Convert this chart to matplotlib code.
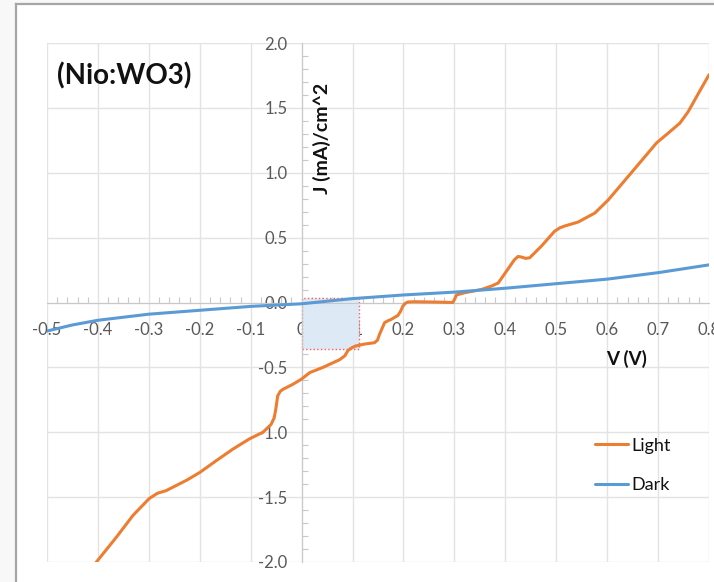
import matplotlib
matplotlib.use("Agg")
import matplotlib.pyplot as plt
from matplotlib.patches import Rectangle
from matplotlib.lines import Line2D
from matplotlib.ticker import MultipleLocator, FixedLocator

plt.rcParams['font.family'] = ['Lato', 'DejaVu Sans']

# ---- data ----
light_v = [-0.403, -0.364, -0.331, -0.299, -0.283, -0.266, -0.226, -0.200, -0.168, -0.135, -0.102,
           -0.076, -0.060, -0.054, -0.051, -0.047, -0.042, -0.037, -0.017, 0.000, 0.016, 0.042, 0.075,
           0.085, 0.091, 0.098, 0.106, 0.124, 0.143, 0.149, 0.153, 0.163, 0.170, 0.176, 0.189, 0.194,
           0.199, 0.204, 0.209, 0.220,
           0.235, 0.268, 0.297, 0.301, 0.304, 0.320, 0.353, 0.373, 0.386, 0.402, 0.418,
           0.425, 0.432, 0.440, 0.448, 0.471, 0.497, 0.507, 0.517, 0.543, 0.576, 0.602, 0.628, 0.661,
           0.697, 0.720, 0.743, 0.759, 0.779, 0.800]
light_j = [-2.00, -1.81, -1.64, -1.51, -1.47, -1.45, -1.37, -1.31, -1.22, -1.13, -1.05,
           -1.00, -0.94, -0.89, -0.83, -0.72, -0.685, -0.67, -0.63, -0.59, -0.54, -0.50, -0.44,
           -0.41, -0.37, -0.35, -0.335, -0.32, -0.31, -0.29, -0.245, -0.155, -0.14, -0.13, -0.10, -0.07,
           -0.027, -0.005, 0.004, 0.006,
           0.005, 0.003, 0.000, 0.03, 0.058, 0.075, 0.10, 0.127, 0.15, 0.24, 0.33,
           0.355, 0.35, 0.34, 0.345, 0.435, 0.55, 0.575, 0.59, 0.62, 0.69, 0.79, 0.91, 1.063,
           1.23, 1.306, 1.383, 1.47, 1.61, 1.755]

dark_v = [-0.50, -0.45, -0.40, -0.30, -0.20, -0.10, 0.00, 0.10, 0.20, 0.30, 0.40, 0.50, 0.60, 0.70, 0.80]
dark_j = [-0.22, -0.173, -0.137, -0.09, -0.06, -0.03, -0.01, 0.03, 0.058, 0.08, 0.11, 0.145, 0.18, 0.23, 0.29]

x_ticks = [-0.5, -0.4, -0.3, -0.2, -0.1, 0.0, 0.1, 0.2, 0.3, 0.4, 0.5, 0.6, 0.7, 0.8]
x_tick_labels = ['-0.5', '-0.4', '-0.3', '-0.2', '-0.1', '0', '0.1', '0.2', '0.3', '0.4', '0.5', '0.6', '0.7', '0.8']
y_ticks = [-2.0, -1.5, -1.0, -0.5, 0.0, 0.5, 1.0, 1.5, 2.0]
y_tick_labels = ['-2.0', '-1.5', '-1.0', '-0.5', '0.0', '0.5', '1.0', '1.5', '2.0']

box_v = [0.0, 0.112]
box_j = [-0.36, 0.035]

W, H = 714, 582
fig = plt.figure(figsize=(W / 100, H / 100), dpi=100, facecolor='#f8f8f8')

# white chart frame with gray border
fig.add_artist(Rectangle((16 / W, 0), 1 - 16 / W, 1 - 4 / H, transform=fig.transFigure,
                         facecolor='white', edgecolor='none', zorder=0))
fig.add_artist(Line2D([16 / W, 16 / W], [0, 1 - 4 / H], transform=fig.transFigure,
                      color='#a6a6a6', lw=1.6))
fig.add_artist(Line2D([16 / W, 1], [1 - 4 / H, 1 - 4 / H], transform=fig.transFigure,
                      color='#a6a6a6', lw=1.6))

ax = fig.add_axes([47 / W, 1 - 562 / H, (709 - 47) / W, (562 - 43) / H])
ax.set_facecolor('none')
ax.set_xlim(-0.5, 0.8)
ax.set_ylim(-2.0, 2.0)

ax.xaxis.set_major_locator(FixedLocator(x_ticks))
ax.yaxis.set_major_locator(FixedLocator(y_ticks))
ax.set_xticklabels(x_tick_labels)
ax.set_yticklabels(y_tick_labels)
ax.xaxis.set_minor_locator(MultipleLocator(0.02))
ax.yaxis.set_minor_locator(MultipleLocator(0.1))
ax.grid(True, which='major', color='#e3e3e3', lw=1.0, zorder=0)
ax.set_axisbelow(True)

for s in ['top', 'right']:
    ax.spines[s].set_visible(False)
ax.spines['left'].set_position(('data', 0))
ax.spines['bottom'].set_position(('data', 0))
ax.spines['left'].set_color('#c8c8c8')
ax.spines['bottom'].set_color('#c8c8c8')

ax.tick_params(which='major', length=0, labelsize=12, labelcolor='#595959')
ax.tick_params(axis='x', which='major', pad=14)
ax.tick_params(axis='y', which='major', pad=10)
ax.tick_params(which='minor', direction='in', length=4, color='#c8c8c8', width=0.8)

# highlighted box
ax.add_patch(Rectangle((box_v[0], box_j[0]), box_v[1] - box_v[0], box_j[1] - box_j[0],
                       facecolor='#dde9f5', edgecolor='#ff5a5a', lw=1.0, ls=':', zorder=1))

ax.plot(light_v, light_j, color='#ed7d31', lw=2.2, label='Light', zorder=3,
        solid_capstyle='round', solid_joinstyle='round')
ax.plot(dark_v, dark_j, color='#5b9bd5', lw=2.2, label='Dark', zorder=3,
        solid_capstyle='round', solid_joinstyle='round')

fig.text(57 / W, 1 - 76 / H, '(Nio:WO3)', fontsize=20, fontweight='bold', color='#111111',
         ha='left', va='center')
fig.text(322 / W, 1 - 138 / H, 'J (mA)/cm^2', fontsize=14, fontweight='bold', color='#111111',
         rotation=90, ha='center', va='center')
fig.text(627 / W, 1 - 359 / H, 'V (V)', fontsize=13.5, fontweight='bold', color='#111111',
         ha='center', va='center')

leg = ax.legend(loc='upper left', bbox_to_anchor=(582 / W, 1 - 425 / H), bbox_transform=fig.transFigure,
                frameon=False, fontsize=13, handlelength=1.85, handletextpad=0.2, labelspacing=1.3,
                borderpad=0.2)
for t in leg.get_texts():
    t.set_color('#111111')

fig.savefig('out.png', dpi=100, facecolor=fig.get_facecolor())
